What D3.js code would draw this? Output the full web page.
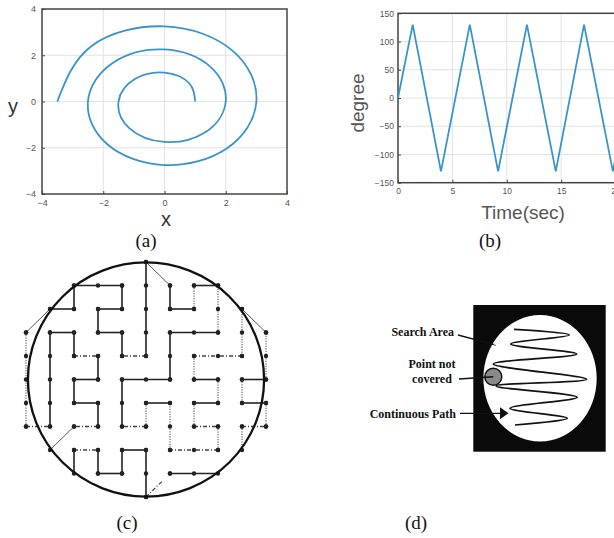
<!DOCTYPE html>
<html lang="en">
  <head>
    <meta charset="UTF-8" />
    <title>Coverage paths</title>
    <script src="https://cdn.jsdelivr.net/npm/d3@7"></script>
    <style>
      * {
        margin: 0;
        padding: 0;
      }
      body {
        background: #fff;
      }
      .tick text {
        font-family: "Liberation Sans", Arial, sans-serif;
        font-size: 9px;
        fill: #555;
      }
      .tick line {
        stroke: #444;
      }
      .caption {
        font-family: "Liberation Serif", "Times New Roman", serif;
        font-size: 19px;
        fill: #111;
      }
      .note {
        font-family: "Liberation Serif", "Times New Roman", serif;
        font-size: 12px;
        font-weight: bold;
        fill: #111;
      }
    </style>
  </head>

  <body></body>

  <script>
    // (a) spiral, read every 45 degrees
    const spiralX = [1, 0.8, 0, -0.97, -1.5, -1.15, 0, 1.33, 2, 1.5, 0, -1.68, -2.5, -1.86, 0, 2.03, 3, 2.21, 0, -2.39, -3.5];
    const spiralY = [0, 0.8, 1.25, 0.97, 0, -1.15, -1.75, -1.33, 0, 1.5, 2.25, 1.68, 0, -1.86, -2.75, -2.03, 0, 2.21, 3.25, 2.39, 0];
    const spiralTicks = [-4, -2, 0, 2, 4];

    // (b) triangle wave
    const timeT = [0, 1.35, 3.95, 6.6, 9.2, 11.85, 14.5, 17.1, 19.75, 22.4];
    const degreeV = [0, 130, -130, 130, -130, 130, -130, 130, -130, 130];
    const timeTicks = [0, 5, 10, 15, 20, 25];
    const degreeTicks = [-150, -100, -50, 0, 50, 100, 150];

    // (c) grid path: [col1, row1, col2, row2, style]
    // s solid, d dotted, k dash-dot, g thin diagonal
    const mazeSegs = [
      [5, 0, 5, 4, "s"], [5, 4, 4, 4, "k"], [4, 4, 4, 3, "s"], [4, 3, 3, 3, "s"],
      [3, 3, 3, 2, "s"], [3, 2, 4, 2, "s"], [4, 2, 4, 1, "s"], [4, 1, 2, 1, "s"],
      [2, 1, 2, 2, "s"], [2, 2, 1, 2, "s"], [1, 2, 0, 3, "g"], [0, 3, 0, 7, "d"],
      [0, 7, 1, 7, "k"], [1, 7, 1, 3, "s"], [1, 3, 2, 3, "s"], [2, 3, 2, 4, "s"],
      [2, 4, 3, 4, "k"], [3, 4, 3, 5, "s"], [3, 5, 2, 5, "s"], [2, 5, 2, 6, "s"],
      [2, 6, 3, 6, "s"], [3, 6, 3, 7, "s"], [3, 7, 2, 7, "k"], [2, 7, 1, 8, "g"],
      [2, 9, 2, 8, "s"], [2, 8, 3, 8, "k"], [3, 8, 3, 9, "s"], [3, 9, 4, 9, "s"],
      [4, 9, 4, 8, "s"], [4, 8, 5, 8, "s"], [5, 8, 5, 10, "s"], [5, 10, 5.7, 9.3, "k"],
      [6, 9, 8, 9, "s"], [9, 8, 9, 7, "d"], [9, 7, 10, 7, "k"], [10, 7, 10, 6, "d"],
      [10, 6, 9, 6, "s"], [9, 6, 9, 5, "d"], [9, 5, 10, 5, "s"], [10, 5, 10, 3, "d"],
      [10, 3, 9, 2, "g"], [9, 2, 9, 4, "d"], [9, 4, 7, 4, "k"], [7, 4, 7, 5, "d"],
      [7, 5, 8, 5, "s"], [8, 5, 8, 6, "d"], [8, 6, 7, 6, "s"], [7, 6, 7, 7, "d"],
      [7, 7, 8, 7, "k"], [8, 7, 8, 8, "d"], [8, 8, 6, 8, "k"], [6, 8, 6, 6, "d"],
      [6, 6, 5, 6, "s"], [5, 6, 5, 7, "d"], [5, 7, 4, 7, "k"], [4, 7, 4, 5, "s"],
      [4, 5, 6, 5, "s"], [6, 5, 6, 3, "s"], [6, 3, 8, 3, "s"], [8, 3, 8, 1, "d"],
      [8, 1, 7, 1, "s"], [7, 1, 7, 2, "d"], [7, 2, 6, 2, "s"], [6, 2, 6, 1, "s"],
      [6, 1, 5, 0, "g"]
    ];
    const extraNodes = [[6, 9]];

    // (d) continuous path turning points, 0..100 box of the black square
    const zigU = [30.7, 72.5, 28.2, 78.1, 15.1, 85.6, 17.1, 78.5, 27.7, 71.0, 31.5];
    const zigV = [16.6, 20.4, 26.6, 33.4, 40.2, 50.6, 55.2, 62.9, 70.4, 77.2, 81.8];
    const holeU = 15.1, holeV = 48.9;

    const w = 614, h = 538;
    const svg = d3.select("body").append("svg").attr("width", w).attr("height", h);

    // ---------- (a)
    const ax = d3.scaleLinear().domain([-4, 4]).range([42, 287]);
    const ay = d3.scaleLinear().domain([-4, 4]).range([194, 9]);
    const ga = svg.append("g");

    ga.selectAll(".gx").data([-2, 0, 2]).enter().append("line")
      .attr("x1", d => ax(d)).attr("x2", d => ax(d)).attr("y1", ay(4)).attr("y2", ay(-4))
      .attr("stroke", "#e2e2e2");
    ga.selectAll(".gy").data([-2, 0, 2]).enter().append("line")
      .attr("y1", d => ay(d)).attr("y2", d => ay(d)).attr("x1", ax(-4)).attr("x2", ax(4))
      .attr("stroke", "#e2e2e2");

    ga.append("g").attr("transform", "translate(0," + ay(-4) + ")")
      .call(d3.axisBottom(ax).tickValues(spiralTicks).tickSize(-3).tickPadding(6))
      .call(g => g.select(".domain").remove());
    ga.append("g").attr("transform", "translate(" + ax(-4) + ",0)")
      .call(d3.axisLeft(ay).tickValues(spiralTicks).tickSize(-3).tickPadding(6))
      .call(g => g.select(".domain").remove());

    ga.append("rect").attr("x", ax(-4)).attr("y", ay(4))
      .attr("width", ax(4) - ax(-4)).attr("height", ay(-4) - ay(4))
      .attr("fill", "none").attr("stroke", "#444").attr("stroke-width", 1.5);

    const spiral = spiralX.map((d, i) => [d, spiralY[i]]);
    ga.append("path")
      .attr("d", d3.line().x(d => ax(d[0])).y(d => ay(d[1])).curve(d3.curveNatural)(spiral))
      .attr("fill", "none").attr("stroke", "#3a94cc").attr("stroke-width", 1.8);

    ga.append("text").attr("x", 166).attr("y", 226).attr("text-anchor", "middle")
      .style("font-family", "Liberation Sans, Arial, sans-serif").style("font-size", "20px")
      .attr("fill", "#333").text("x");
    ga.append("text").attr("x", 13).attr("y", 113).attr("text-anchor", "middle")
      .style("font-family", "Liberation Sans, Arial, sans-serif").style("font-size", "20px")
      .attr("fill", "#333").text("y");

    // ---------- (b)
    const bx = d3.scaleLinear().domain([0, 25]).range([398, 398 + 54.4 * 5]);
    const by = d3.scaleLinear().domain([-150, 150]).range([182.7, 13.3]);
    const gb = svg.append("g");

    gb.selectAll(".gx").data([5, 10, 15, 20]).enter().append("line")
      .attr("x1", d => bx(d)).attr("x2", d => bx(d)).attr("y1", by(150)).attr("y2", by(-150))
      .attr("stroke", "#e2e2e2");
    gb.selectAll(".gy").data([-100, -50, 0, 50, 100]).enter().append("line")
      .attr("y1", d => by(d)).attr("y2", d => by(d)).attr("x1", bx(0)).attr("x2", bx(25))
      .attr("stroke", "#e2e2e2");

    gb.append("g").attr("transform", "translate(0," + by(-150) + ")")
      .call(d3.axisBottom(bx).tickValues(timeTicks).tickSize(-3).tickPadding(5))
      .call(g => g.select(".domain").remove());
    gb.append("g").attr("transform", "translate(" + bx(0) + ",0)")
      .call(d3.axisLeft(by).tickValues(degreeTicks).tickSize(-3).tickPadding(4))
      .call(g => g.select(".domain").remove());
    gb.selectAll(".tick text").style("font-size", "8.5px");

    gb.append("rect").attr("x", bx(0)).attr("y", by(150))
      .attr("width", bx(25) - bx(0)).attr("height", by(-150) - by(150))
      .attr("fill", "none").attr("stroke", "#444").attr("stroke-width", 1.5);

    const wave = timeT.map((d, i) => [d, degreeV[i]]);
    gb.append("path")
      .attr("d", d3.line().x(d => bx(d[0])).y(d => by(d[1]))(wave))
      .attr("fill", "none").attr("stroke", "#3a94cc").attr("stroke-width", 1.8);

    gb.append("text").attr("transform", "translate(357,103) rotate(-90)")
      .attr("text-anchor", "middle").attr("dy", "0.35em")
      .style("font-family", "Liberation Sans, Arial, sans-serif").style("font-size", "19px")
      .attr("fill", "#555").text("degree");
    gb.append("text").attr("x", 523).attr("y", 212).attr("dy", "0.35em")
      .attr("text-anchor", "middle")
      .style("font-family", "Liberation Sans, Arial, sans-serif").style("font-size", "19px")
      .attr("fill", "#555").text("Time(sec)");

    // ---------- (c)
    const cx = d3.scaleLinear().domain([0, 10]).range([26, 266]);
    const cy = d3.scaleLinear().domain([0, 10]).range([262, 497]);
    const gc = svg.append("g");

    const segStyle = {
      s: { color: "#222", width: 1.6, dash: null },
      d: { color: "#777", width: 1.3, dash: "1.2,1.3" },
      k: { color: "#444", width: 1.3, dash: "4,2,1,2" },
      g: { color: "#555", width: 1, dash: null }
    };

    gc.selectAll(".seg").data(mazeSegs).enter().append("line")
      .attr("x1", d => cx(d[0])).attr("y1", d => cy(d[1]))
      .attr("x2", d => cx(d[2])).attr("y2", d => cy(d[3]))
      .attr("stroke", d => segStyle[d[4]].color)
      .attr("stroke-width", d => segStyle[d[4]].width)
      .attr("stroke-dasharray", d => segStyle[d[4]].dash);

    // every grid point passed by a straight segment gets a dot
    let nodes = [];
    mazeSegs.forEach(d => {
      if (d[4] == "g" || (d[0] != d[2] && d[1] != d[3])) {
        nodes.push([d[0], d[1]]);
        if (Number.isInteger(d[2])) nodes.push([d[2], d[3]]);
        return;
      }
      const n = Math.max(Math.abs(d[2] - d[0]), Math.abs(d[3] - d[1]));
      for (let k = 0; k <= n; k++) {
        nodes.push([d[0] + (d[2] - d[0]) * k / n, d[1] + (d[3] - d[1]) * k / n]);
      }
    });
    nodes = nodes.concat(extraNodes);

    gc.selectAll(".node").data(nodes).enter().append("circle")
      .attr("cx", d => cx(d[0])).attr("cy", d => cy(d[1])).attr("r", 2.2)
      .attr("fill", "#222");

    gc.append("ellipse")
      .attr("cx", cx(5)).attr("cy", cy(5))
      .attr("rx", cx(5 + 4.92) - cx(5)).attr("ry", cy(5 + 4.98) - cy(5))
      .attr("fill", "none").attr("stroke", "#111").attr("stroke-width", 2.3);

    // ---------- (d)
    const du = d3.scaleLinear().domain([0, 100]).range([473.3, 605.7]);
    const dv = d3.scaleLinear().domain([0, 100]).range([305, 451.7]);
    const gd = svg.append("g");

    gd.append("rect").attr("x", du(0)).attr("y", dv(0))
      .attr("width", du(100) - du(0)).attr("height", dv(100) - dv(0))
      .attr("fill", "#0a0a0a");
    gd.append("ellipse").attr("cx", du(50.4)).attr("cy", dv(50))
      .attr("rx", du(50.4 + 42.8) - du(50.4)).attr("ry", dv(50 + 43.1) - dv(50))
      .attr("fill", "#fff");

    const zig = zigU.map((d, i) => [d, zigV[i]]);
    gd.append("path")
      .attr("d", d3.line().x(d => du(d[0])).y(d => dv(d[1])).curve(d3.curveCatmullRom.alpha(0.5))(zig))
      .attr("fill", "none").attr("stroke", "#111").attr("stroke-width", 1.7);

    // pointers
    gd.append("line").attr("x1", 458).attr("y1", 335).attr("x2", du(17.1)).attr("y2", dv(27.3))
      .attr("stroke", "#111").attr("stroke-width", 1.3);
    gd.append("line").attr("x1", du(15.5)).attr("y1", dv(26.4)).attr("x2", du(17.1)).attr("y2", dv(27.3))
      .attr("stroke", "#ddd").attr("stroke-width", 1.3);

    gd.append("circle").attr("cx", du(holeU)).attr("cy", dv(holeV)).attr("r", 8.5)
      .attr("fill", "#8a8a8a").attr("stroke", "#111").attr("stroke-width", 1.5);
    gd.append("line").attr("x1", 459).attr("y1", 379).attr("x2", du(holeU)).attr("y2", dv(holeV))
      .attr("stroke", "#111").attr("stroke-width", 1.3);

    gd.append("line").attr("x1", 460).attr("y1", 413.3).attr("x2", 502).attr("y2", 413.3)
      .attr("stroke", "#111").attr("stroke-width", 1.3);
    gd.append("path").attr("d", "M500,407.3L508.5,413.3L500,419.3Z").attr("fill", "#111");

    gd.append("text").attr("class", "note").attr("x", 454).attr("y", 336)
      .attr("text-anchor", "end").text("Search Area");
    gd.append("text").attr("class", "note").attr("x", 432).attr("y", 368)
      .attr("text-anchor", "middle").text("Point not");
    gd.append("text").attr("class", "note").attr("x", 432).attr("y", 383)
      .attr("text-anchor", "middle").text("covered");
    gd.append("text").attr("class", "note").attr("x", 456).attr("y", 418)
      .attr("text-anchor", "end").text("Continuous Path");

    // ---------- captions
    const captions = [["(a)", 146, 247], ["(b)", 490, 247], ["(c)", 127, 529], ["(d)", 416, 529]];
    svg.selectAll(".caption").data(captions).enter().append("text")
      .attr("class", "caption").attr("x", d => d[1]).attr("y", d => d[2])
      .attr("text-anchor", "middle").text(d => d[0]);
  </script>
</html>
